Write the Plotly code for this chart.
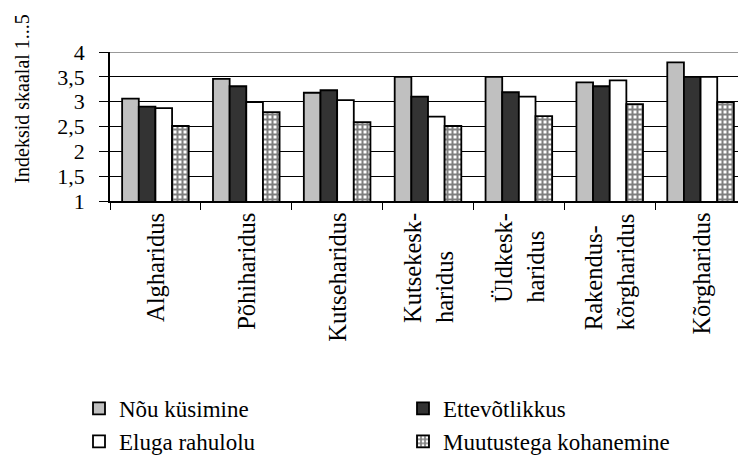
import plotly.graph_objects as go

categories = ["Algharidus", "Põhiharidus", "Kutseharidus", "Kutsekesk-<br>haridus",
              "Üldkesk-<br>haridus", "Rakendus-<br>kõrgharidus", "Kõrgharidus"]
nou_kusimine = [3.06, 3.46, 3.18, 3.50, 3.50, 3.39, 3.79]
ettevotlikkus = [2.90, 3.31, 3.23, 3.10, 3.19, 3.31, 3.50]
eluga_rahulolu = [2.87, 2.99, 3.03, 2.70, 3.10, 3.43, 3.50]
muutustega = [2.51, 2.79, 2.59, 2.51, 2.71, 2.95, 2.99]
y_ticks = [1, 1.5, 2, 2.5, 3, 3.5, 4]
y_ticktext = ["1", "1,5", "2", "2,5", "3", "3,5", "4"]
y_title = "Indeksid skaalal 1...5"

FONT = "Liberation Serif, Times New Roman, serif"
idx = list(range(len(categories)))

# page body has an 8px margin: work in screen coordinates, then offset
OFF = 8
SW, SH = 746, 459
L, T, B = 109.5, 52, 201          # screen coords of plot area
W, H = SW - OFF, SH - OFF
PW, PH = SW - L, B - T

fig = go.Figure()
line = dict(color="black", width=1.8)
fig.add_bar(x=idx, y=nou_kusimine, name="Nõu küsimine", legend="legend",
            marker=dict(color="#C0C0C0", line=line))
fig.add_bar(x=idx, y=ettevotlikkus, name="Ettevõtlikkus", legend="legend2",
            marker=dict(color="#333333", line=line))
fig.add_bar(x=idx, y=eluga_rahulolu, name="Eluga rahulolu", legend="legend",
            marker=dict(color="white", line=line))
fig.add_bar(x=idx, y=muutustega, name="Muutustega kohanemine", legend="legend2",
            marker=dict(color="white", line=line,
                        pattern=dict(shape="+", fgcolor="black", bgcolor="white",
                                     size=5, solidity=0.65)))

for i, c in enumerate(categories):
    fig.add_annotation(x=i, y=0, xref="x", yref="paper", yanchor="top",
                       xanchor="center", yshift=-10, text=c, textangle=-90,
                       align="left", showarrow=False,
                       font=dict(family=FONT, size=24.5, color="black"))

fig.add_annotation(x=(21 - L) / PW, y=(B - 99) / PH, xref="paper", yref="paper",
                   xanchor="center", yanchor="middle", text=y_title,
                   textangle=-90, showarrow=False,
                   font=dict(family=FONT, size=20, color="black"))

fig.add_shape(type="line", xref="x domain", yref="y", x0=0, x1=1, y0=4, y1=4,
              line=dict(color="#999999", width=2))

leg_common = dict(orientation="v", xref="container", yref="container",
                  xanchor="left", yanchor="top",
                  font=dict(family=FONT, size=23, color="black"),
                  itemclick=False, itemdoubleclick=False)
leg_y = 1 - (387 - OFF) / H

fig.update_layout(
    width=W, height=H,
    margin=dict(l=L - OFF, r=0, t=T - OFF, b=SH - B, autoexpand=False),
    paper_bgcolor="white", plot_bgcolor="white",
    barmode="group", bargap=0.267, bargroupgap=0,
    font=dict(family=FONT, size=22, color="black"),
    xaxis=dict(range=[-0.5, 6.5], tickvals=[i + 0.5 for i in idx[:-1]] + [-0.5],
               showticklabels=False, ticks="outside", ticklen=7, tickcolor="black",
               showline=True, linecolor="black", linewidth=1.5, showgrid=False,
               zeroline=False, automargin=False),
    yaxis=dict(range=[1, 4], tickvals=y_ticks, ticktext=y_ticktext,
               ticks="outside", ticklen=9, tickcolor="black",
               showline=True, linecolor="black", linewidth=1.5,
               showgrid=True, gridcolor="black", gridwidth=1, zeroline=False,
               automargin=False, ticklabelstandoff=10,
               tickfont=dict(family=FONT, size=22, color="black")),
    legend=dict(x=(79 - OFF) / W, y=leg_y, **leg_common),
    legend2=dict(x=(403 - OFF) / W, y=leg_y, **leg_common),
    showlegend=True,
)

fig.write_html("out.html")
